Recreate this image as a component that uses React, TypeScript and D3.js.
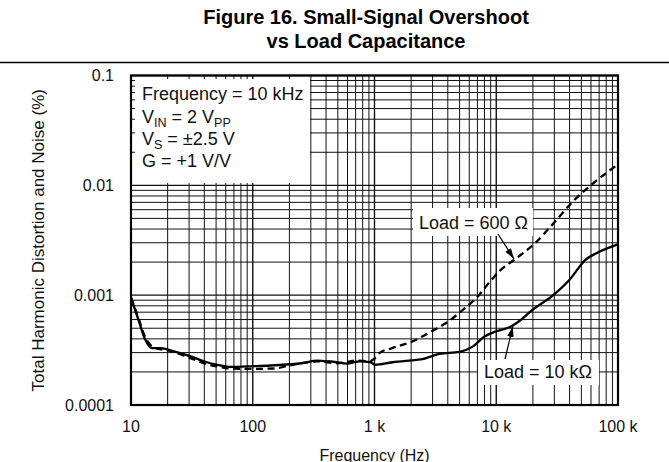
import React, { useRef, useEffect } from 'react';
import * as d3 from 'd3';

const xTicks = [10, 100, 1000, 10000, 100000];
const xTickLabels = ['10', '100', '1 k', '10 k', '100 k'];
const yTicks = [0.0001, 0.001, 0.01, 0.1];
const yTickLabels = ['0.0001', '0.001', '0.01', '0.1'];

// Load = 10 kOhm (solid)
const freq10k = [10, 11.5, 13, 14.8, 17.3, 21, 30, 42, 54, 65, 90, 140, 200, 250, 340, 490, 590, 760, 920, 1010,
    1400, 2000, 2400, 3400, 5000, 6400, 8000, 10000, 13000, 14700, 20000, 29400, 40000, 54000, 67000, 100000];
const thd10k = [0.00095, 0.0006, 0.0004, 0.00033, 0.00033, 0.000315, 0.00028, 0.000245, 0.00023, 0.000222,
    0.000225, 0.000229, 0.000235, 0.00024, 0.000253, 0.000245, 0.000238, 0.00025, 0.000246, 0.000232,
    0.000245, 0.000255, 0.00026, 0.000292, 0.000305, 0.00034, 0.00042, 0.000469, 0.000514, 0.000558,
    0.00074, 0.001, 0.00138, 0.0021, 0.00242, 0.0029];

// Load = 600 Ohm (dashed)
const freq600 = [10, 11.5, 13, 15, 18, 21, 30, 42, 54, 70, 100, 150, 200, 345, 490, 710, 920, 1000, 1110, 1400,
    2000, 2900, 3900, 5200, 6900, 9000, 10700, 14000, 21000, 30000, 43000, 63000, 100000];
const thd600 = [0.00095, 0.00062, 0.00042, 0.00034, 0.00032, 0.00031, 0.00027, 0.000235, 0.000222, 0.000214,
    0.000213, 0.000215, 0.000229, 0.00025, 0.00024, 0.000254, 0.00025, 0.000265, 0.0003, 0.00033,
    0.000375, 0.000465, 0.00056, 0.00072, 0.00095, 0.00135, 0.00167, 0.00209, 0.003,
    0.0046, 0.0072, 0.0105, 0.0155];

const FONT = '"Liberation Sans", Arial, Helvetica, sans-serif';

// log-log interpolation on a curve, used to put the arrow tips on the lines
const valueAt = (fs, vs, f) => {
    const i = Math.max(1, d3.bisectLeft(fs, f));
    const t = (Math.log10(f) - Math.log10(fs[i - 1])) / (Math.log10(fs[i]) - Math.log10(fs[i - 1]));
    return Math.pow(10, Math.log10(vs[i - 1]) + t * (Math.log10(vs[i]) - Math.log10(vs[i - 1])));
};

const App = () => {
    const chartRef = useRef(null);

    useEffect(() => {
        const width = 669;
        const height = 462;
        const left = 131, right = 618, top = 75.5, bottom = 405;

        const svg = d3.select(chartRef.current);
        svg.selectAll('*').remove();
        svg.attr('width', width).attr('height', height);

        svg.append('rect').attr('width', width).attr('height', height).attr('fill', '#fff');

        const x = d3.scaleLog().domain([10, 100000]).range([left, right]);
        const y = d3.scaleLog().domain([0.0001, 0.1]).range([bottom, top]);

        // title
        const title = svg.append('g')
            .attr('font-family', FONT)
            .attr('font-weight', 'bold')
            .attr('font-size', 20)
            .attr('text-anchor', 'middle');
        title.append('text').attr('x', 366).attr('y', 24).text('Figure 16. Small-Signal Overshoot');
        title.append('text').attr('x', 366).attr('y', 48).text('vs Load Capacitance');

        svg.append('line')
            .attr('x1', 0).attr('x2', width)
            .attr('y1', 62.5).attr('y2', 62.5)
            .attr('stroke', '#000').attr('stroke-width', 1.5);

        // grid
        const isDecade = v => Math.abs(Math.log10(v) - Math.round(Math.log10(v))) < 1e-9;
        const grid = svg.append('g');
        grid.selectAll('line.vx')
            .data(x.ticks())
            .enter().append('line')
            .attr('x1', d => x(d)).attr('x2', d => x(d))
            .attr('y1', top).attr('y2', bottom)
            .attr('stroke', '#111')
            .attr('stroke-width', d => (isDecade(d) ? 1.4 : 1));
        grid.selectAll('line.hy')
            .data(y.ticks())
            .enter().append('line')
            .attr('x1', left).attr('x2', right)
            .attr('y1', d => y(d)).attr('y2', d => y(d))
            .attr('stroke', '#111')
            .attr('stroke-width', d => (isDecade(d) ? 1.4 : 1));

        // conditions box
        svg.append('rect')
            .attr('x', left + 4).attr('y', top + 3.5)
            .attr('width', 175).attr('height', 104)
            .attr('fill', '#fff');

        const cond = svg.append('g')
            .attr('font-family', FONT)
            .attr('font-size', 18)
            .attr('fill', '#111');
        cond.append('text').attr('x', 142).attr('y', 100).text('Frequency = 10 kHz');
        const vin = cond.append('text').attr('x', 142).attr('y', 122.5);
        vin.append('tspan').text('V');
        vin.append('tspan').attr('font-size', 12.5).attr('dy', 4).text('IN');
        vin.append('tspan').attr('dy', -4).text(' = 2 V');
        vin.append('tspan').attr('font-size', 12.5).attr('dy', 4).text('PP');
        const vs = cond.append('text').attr('x', 142).attr('y', 145);
        vs.append('tspan').text('V');
        vs.append('tspan').attr('font-size', 12.5).attr('dy', 4).text('S');
        vs.append('tspan').attr('dy', -4).text(' = \u00b12.5 V');
        cond.append('text').attr('x', 142).attr('y', 167).text('G = +1 V/V');

        // curve label boxes
        svg.append('rect').attr('x', 413).attr('y', 208).attr('width', 120).attr('height', 28).attr('fill', '#fff');
        svg.append('rect').attr('x', 478).attr('y', 360).attr('width', 121).attr('height', 25).attr('fill', '#fff');

        // frame
        svg.append('rect')
            .attr('x', left).attr('y', top)
            .attr('width', right - left).attr('height', bottom - top)
            .attr('fill', 'none')
            .attr('stroke', '#000').attr('stroke-width', 2.2);

        // curves
        const line = d3.line()
            .x(d => x(d[0]))
            .y(d => y(d[1]))
            .curve(d3.curveMonotoneX);

        svg.append('path')
            .attr('d', line(freq10k.map((f, i) => [f, thd10k[i]])))
            .attr('fill', 'none')
            .attr('stroke', '#000')
            .attr('stroke-width', 2.3)
            .attr('stroke-linejoin', 'round');

        svg.append('path')
            .attr('d', line(freq600.map((f, i) => [f, thd600[i]])))
            .attr('fill', 'none')
            .attr('stroke', '#000')
            .attr('stroke-width', 2.3)
            .attr('stroke-dasharray', '7,4.5');

        // annotations
        svg.append('defs').append('marker')
            .attr('id', 'arrowhead')
            .attr('viewBox', '0 0 10 6')
            .attr('refX', 10).attr('refY', 3)
            .attr('markerUnits', 'userSpaceOnUse')
            .attr('markerWidth', 11).attr('markerHeight', 6.5)
            .attr('orient', 'auto')
            .append('path').attr('d', 'M0,0 L10,3 L0,6 Z').attr('fill', '#000');

        const labels = svg.append('g')
            .attr('font-family', FONT)
            .attr('font-size', 18)
            .attr('fill', '#111');
        labels.append('text').attr('x', 419).attr('y', 228.5).text('Load = 600 \u03a9');
        labels.append('text').attr('x', 484).attr('y', 377.5).text('Load = 10 k\u03a9');

        const tip600 = 14000;
        svg.append('line')
            .attr('x1', 498).attr('y1', 234)
            .attr('x2', x(tip600)).attr('y2', y(valueAt(freq600, thd600, tip600)) - 1)
            .attr('stroke', '#000').attr('stroke-width', 1.2)
            .attr('marker-end', 'url(#arrowhead)');

        const tip10k = 13700;
        svg.append('line')
            .attr('x1', 505).attr('y1', 359)
            .attr('x2', x(tip10k)).attr('y2', y(valueAt(freq10k, thd10k, tip10k)) + 1)
            .attr('stroke', '#000').attr('stroke-width', 1.2)
            .attr('marker-end', 'url(#arrowhead)');

        // axes labels
        const axes = svg.append('g')
            .attr('font-family', FONT)
            .attr('font-size', 16)
            .attr('fill', '#111');
        axes.selectAll('text.yt')
            .data(yTicks)
            .enter().append('text')
            .attr('x', 114)
            .attr('y', d => y(d))
            .attr('dy', '0.36em')
            .attr('text-anchor', 'end')
            .text((d, i) => yTickLabels[i]);
        axes.selectAll('text.xt')
            .data(xTicks)
            .enter().append('text')
            .attr('x', d => x(d))
            .attr('y', 431.5)
            .attr('text-anchor', 'middle')
            .text((d, i) => xTickLabels[i]);

        axes.append('text')
            .attr('x', (left + right) / 2)
            .attr('y', 460.5)
            .attr('text-anchor', 'middle')
            .text('Frequency (Hz)');
        axes.append('text')
            .attr('transform', `translate(44,${(top + bottom) / 2}) rotate(-90)`)
            .attr('text-anchor', 'middle')
            .attr('font-size', 17)
            .text('Total Harmonic Distortion and Noise (%)');
    }, []);

    return (
        <svg ref={chartRef} width={669} height={462} style={{ position: 'absolute', left: 0, top: 0 }}></svg>
    );
};

export default App;
